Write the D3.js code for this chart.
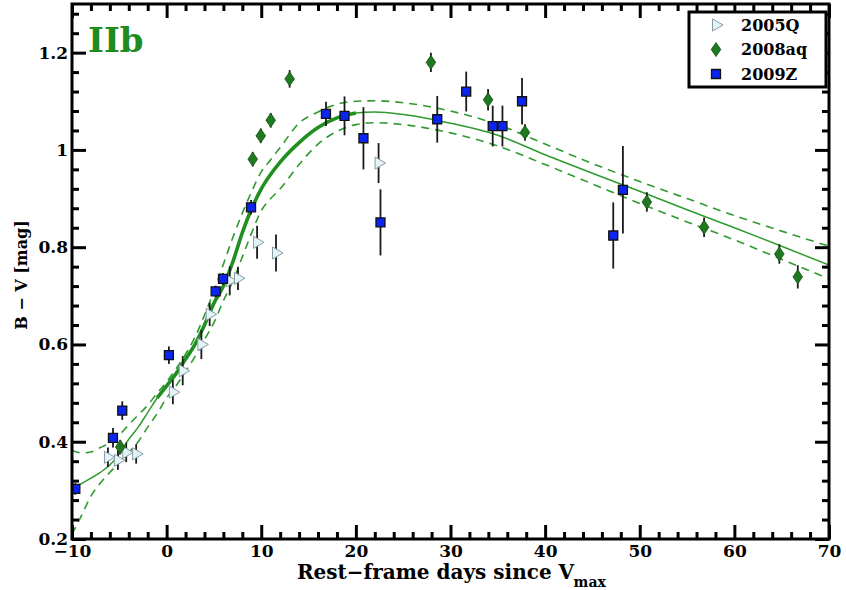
<!DOCTYPE html>
<html>
<head>
<meta charset="utf-8">
<script src="https://cdn.jsdelivr.net/npm/d3@7"></script>
<style>
  body { margin: 0; background: #fff; }
  text { font-family: "DejaVu Serif", serif; font-weight: bold; }
</style>
</head>
<body>
<div id="chart"></div>
<script>
// data
var q05Days = [-6.2, -5.15, -4.27, -3.22, 0.66, 1.7, 3.67, 4.55, 6.67, 7.54, 9.56, 11.56, 22.4];
var q05Color = [0.368, 0.362, 0.378, 0.375, 0.502, 0.546, 0.600, 0.662, 0.731, 0.736, 0.810, 0.788, 0.973];
var q05Err = [0.02, 0.02, 0.02, 0.02, 0.025, 0.03, 0.03, 0.024, 0.03, 0.024, 0.034, 0.038, 0.041];

var aq08Days = [-4.9, 9.1, 9.95, 11.0, 13.0, 27.93, 33.97, 37.87, 50.75, 56.8, 64.75, 66.7];
var aq08Color = [0.389, 0.981, 1.029, 1.061, 1.146, 1.180, 1.103, 1.036, 0.893, 0.841, 0.786, 0.739];
var aq08Err = [0.015, 0.015, 0.015, 0.015, 0.018, 0.02, 0.022, 0.017, 0.02, 0.02, 0.02, 0.024];

var z09Days = [-9.65, -5.67, -4.69, 0.24, 5.18, 5.96, 8.92, 16.84, 18.8, 20.8, 22.6, 28.6, 31.66, 34.46, 35.49, 37.56, 47.2, 48.22];
var z09Color = [0.303, 0.408, 0.464, 0.578, 0.709, 0.735, 0.882, 1.074, 1.07, 1.024, 0.851, 1.063, 1.12, 1.049, 1.049, 1.1, 0.824, 0.918];
var z09Err = [0.012, 0.02, 0.019, 0.018, 0.012, 0.012, 0.015, 0.025, 0.04, 0.064, 0.068, 0.048, 0.041, 0.042, 0.042, 0.048, 0.068, 0.09];

// template fit and its 1-sigma band
var fitDays = [-10, -9, -8, -7, -6, -5, -4, -3, -2, -1, 0, 1, 2, 3, 4, 5, 6, 7, 8, 9, 10, 11, 12, 14, 16, 18, 20, 22, 25, 30, 35, 40, 45, 50, 55, 60, 65, 70];
var fitMid = [0.305, 0.314, 0.325, 0.337, 0.352, 0.375, 0.405, 0.43, 0.46, 0.49, 0.515, 0.54, 0.57, 0.6, 0.64, 0.685, 0.72, 0.77, 0.83, 0.88, 0.92, 0.95, 0.975, 1.015, 1.046, 1.066, 1.076, 1.078, 1.073, 1.055, 1.03, 0.99, 0.952, 0.915, 0.877, 0.84, 0.802, 0.763];
var fitHigh = [0.382, 0.377, 0.379, 0.388, 0.398, 0.414, 0.435, 0.455, 0.475, 0.5, 0.523, 0.55, 0.58, 0.615, 0.66, 0.71, 0.765, 0.82, 0.87, 0.915, 0.955, 0.98, 1.005, 1.055, 1.078, 1.094, 1.1, 1.101, 1.097, 1.08, 1.052, 1.012, 0.972, 0.935, 0.9, 0.865, 0.833, 0.802];
var fitLow = [0.21, 0.248, 0.288, 0.315, 0.337, 0.357, 0.378, 0.4, 0.43, 0.458, 0.49, 0.515, 0.545, 0.575, 0.61, 0.645, 0.69, 0.73, 0.78, 0.83, 0.875, 0.9, 0.92, 0.97, 1.012, 1.038, 1.052, 1.056, 1.052, 1.035, 1.008, 0.97, 0.93, 0.89, 0.852, 0.815, 0.775, 0.735];

var xMajor = [-10, 0, 10, 20, 30, 40, 50, 60, 70];
var yMajor = [0.2, 0.4, 0.6, 0.8, 1, 1.2];
var legendNames = ["2005Q", "2008aq", "2009Z"];

var svgWidth = 846;
var svgHeight = 590;
var margin = {top: 4, right: 17, bottom: 51, left: 72};
var width = svgWidth - margin.left - margin.right;
var height = svgHeight - margin.top - margin.bottom;

var svg = d3.select("#chart")
  .append("svg")
  .attr("width", svgWidth)
  .attr("height", svgHeight);

var g = svg.append("g")
  .attr("transform", `translate(${margin.left}, ${margin.top})`);

var x = d3.scaleLinear().domain([-10, 70]).range([0, width]);
var y = d3.scaleLinear().domain([0.2, 1.3]).range([height, 0]);

var green = "#2f9a2f";

g.append("clipPath").attr("id", "clip")
  .append("rect").attr("width", width).attr("height", height);

var plot = g.append("g").attr("clip-path", "url(#clip)");

// fit curves
var fitLine = d3.line()
  .x(d => x(d[0]))
  .y(d => y(d[1]))
  .curve(d3.curveMonotoneX);

var mid = fitDays.map((d, i) => [d, fitMid[i]]);
var hi = fitDays.map((d, i) => [d, fitHigh[i]]);
var lo = fitDays.map((d, i) => [d, fitLow[i]]);

plot.append("path").attr("d", fitLine(hi))
  .attr("fill", "none").attr("stroke", green).attr("stroke-width", 1.6)
  .attr("stroke-dasharray", "8,6");
plot.append("path").attr("d", fitLine(lo))
  .attr("fill", "none").attr("stroke", green).attr("stroke-width", 1.6)
  .attr("stroke-dasharray", "8,6");
plot.append("path").attr("d", fitLine(mid))
  .attr("fill", "none").attr("stroke", green).attr("stroke-width", 1.5);
plot.append("path").attr("d", fitLine(mid.filter(d => d[0] >= -1 && d[0] <= 20)))
  .attr("fill", "none").attr("stroke", "#1f8f1f").attr("stroke-width", 3.6);

// error bars
function errBars(days, vals, errs) {
  plot.append("g").selectAll("line")
    .data(days)
    .enter()
    .append("line")
    .attr("x1", d => x(d))
    .attr("x2", d => x(d))
    .attr("y1", (d, i) => y(vals[i] - errs[i]))
    .attr("y2", (d, i) => y(vals[i] + errs[i]))
    .attr("stroke", "#1a1a1a")
    .attr("stroke-width", 1.8);
}
errBars(q05Days, q05Color, q05Err);
errBars(aq08Days, aq08Color, aq08Err);
errBars(z09Days, z09Color, z09Err);

// marker shapes
var triPath = d3.symbol().type(d3.symbolTriangle).size(64)();
var diamondPath = "M0,-7L4.8,0L0,7L-4.8,0Z";
var squarePath = "M-4.5,-4.5H4.5V4.5H-4.5Z";

function drawTri(sel) {
  sel.attr("d", triPath).attr("fill", "#e2f4f6").attr("stroke", "#8a9aa6").attr("stroke-width", 1);
}
function drawDiamond(sel) {
  sel.attr("d", diamondPath).attr("fill", "#1f7a1f").attr("stroke", "#124d12").attr("stroke-width", 0.8);
}
function drawSquare(sel) {
  sel.attr("d", squarePath).attr("fill", "#0a24f2").attr("stroke", "#111").attr("stroke-width", 1.3);
}

plot.append("g").selectAll("path").data(q05Days).enter().append("path")
  .attr("transform", (d, i) => `translate(${x(d)},${y(q05Color[i])}) rotate(90)`)
  .call(drawTri);
plot.append("g").selectAll("path").data(aq08Days).enter().append("path")
  .attr("transform", (d, i) => `translate(${x(d)},${y(aq08Color[i])})`)
  .call(drawDiamond);
plot.append("g").selectAll("path").data(z09Days).enter().append("path")
  .attr("transform", (d, i) => `translate(${x(d)},${y(z09Color[i])})`)
  .call(drawSquare);

// axes, ticks pointing inwards on all four sides
var xMinor = d3.range(-10, 70.1, 2).filter(v => xMajor.indexOf(v) < 0);
var yMinor = d3.range(0.2, 1.3, 0.04).map(v => +v.toFixed(2)).filter(v => yMajor.indexOf(v) < 0);

function styleAxis(sel) {
  sel.select(".domain").remove();
  sel.selectAll("line").attr("stroke", "#000").attr("stroke-width", 3);
  sel.selectAll("text").attr("font-size", "17px").attr("fill", "#000");
}

g.append("g").attr("transform", `translate(0,${height})`)
  .call(d3.axisBottom(x).tickValues(xMajor).tickSize(-14).tickPadding(6).tickFormat(d3.format("d")))
  .call(styleAxis);
g.append("g").attr("transform", `translate(0,${height})`)
  .call(d3.axisBottom(x).tickValues(xMinor).tickSize(-7).tickFormat(""))
  .call(styleAxis);
g.append("g")
  .call(d3.axisTop(x).tickValues(xMajor).tickSize(-14).tickFormat(""))
  .call(styleAxis);
g.append("g")
  .call(d3.axisTop(x).tickValues(xMinor).tickSize(-7).tickFormat(""))
  .call(styleAxis);

g.append("g")
  .call(d3.axisLeft(y).tickValues(yMajor).tickSize(-14).tickPadding(4).tickFormat(d => d === 1 ? "1" : d3.format(".1f")(d)))
  .call(styleAxis);
g.append("g")
  .call(d3.axisLeft(y).tickValues(yMinor).tickSize(-7).tickFormat(""))
  .call(styleAxis);
g.append("g").attr("transform", `translate(${width},0)`)
  .call(d3.axisRight(y).tickValues(yMajor).tickSize(-14).tickFormat(""))
  .call(styleAxis);
g.append("g").attr("transform", `translate(${width},0)`)
  .call(d3.axisRight(y).tickValues(yMinor).tickSize(-7).tickFormat(""))
  .call(styleAxis);

// frame
g.append("rect")
  .attr("width", width).attr("height", height)
  .attr("fill", "none").attr("stroke", "#000").attr("stroke-width", 3);

// labels
g.append("text")
  .attr("x", 16).attr("y", 48)
  .attr("font-size", "34px")
  .attr("fill", "#1e8c1e")
  .text("IIb");

var xTitle = svg.append("text")
  .attr("x", 297).attr("y", 579)
  .attr("font-size", "20px")
  .text("Rest\u2212frame days since V");
var tEnd = xTitle.node().getBBox();
svg.append("text")
  .attr("x", tEnd.x + tEnd.width - 1).attr("y", 587)
  .attr("font-size", "14px")
  .text("max");

svg.append("text")
  .attr("transform", "translate(27,275) rotate(-90)")
  .attr("text-anchor", "middle")
  .attr("font-size", "16px")
  .text("B \u2212 V [mag]");

// legend
var legend = svg.append("g");
legend.append("rect")
  .attr("x", 689).attr("y", 12).attr("width", 137).attr("height", 75)
  .attr("fill", "#fff").attr("stroke", "#000").attr("stroke-width", 3);

var legendRows = legend.selectAll("g.row")
  .data(legendNames)
  .enter()
  .append("g")
  .attr("class", "row")
  .attr("transform", (d, i) => `translate(716,${25 + i * 24.5})`);

legendRows.append("path")
  .each(function(d, i) {
    var s = d3.select(this);
    if (i === 0) s.attr("transform", "rotate(90)").call(drawTri);
    if (i === 1) s.call(drawDiamond);
    if (i === 2) s.call(drawSquare);
  });

legendRows.append("text")
  .attr("x", 25).attr("dy", "0.35em")
  .attr("font-size", "16px")
  .text(d => d);
</script>
</body>
</html>
